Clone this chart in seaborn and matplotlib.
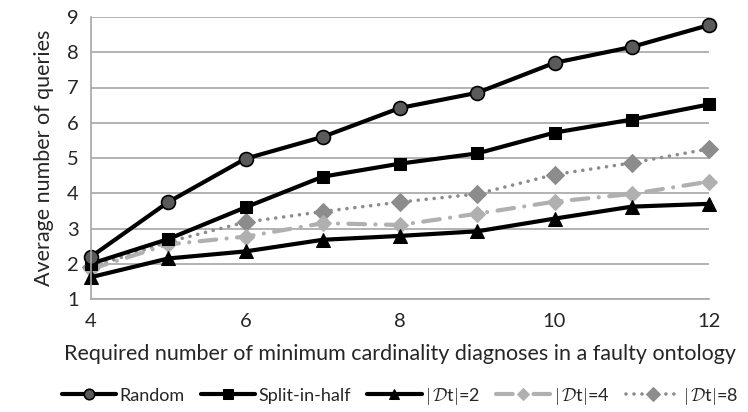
import pandas as pd
import seaborn as sns
import matplotlib.pyplot as plt

x_vals = [4, 5, 6, 7, 8, 9, 10, 11, 12]
random_q = [2.2, 3.75, 4.98, 5.6, 6.42, 6.85, 7.7, 8.15, 8.77]
split_q = [2.0, 2.7, 3.6, 4.47, 4.84, 5.13, 5.72, 6.09, 6.52]
dt2_q = [1.62, 2.15, 2.35, 2.68, 2.79, 2.92, 3.28, 3.62, 3.7]
dt4_q = [1.85, 2.55, 2.77, 3.15, 3.1, 3.42, 3.76, 3.98, 4.33]
dt8_q = [1.9, 2.62, 3.18, 3.48, 3.75, 3.98, 4.53, 4.86, 5.26]
labels = ['Random', 'Split-in-half', r'$|\,\mathcal{D}$t$|$=2',
          r'$|\,\mathcal{D}$t$|$=4', r'$|\,\mathcal{D}$t$|$=8']

sns.set_style('white')
plt.rcParams['font.family'] = ['Lato', 'DejaVu Sans']
plt.rcParams['mathtext.fontset'] = 'cm'

df = pd.DataFrame({'x': x_vals, 'Random': random_q, 'Split': split_q,
                   'dt2': dt2_q, 'dt4': dt4_q, 'dt8': dt8_q})

fig, ax = plt.subplots(figsize=(7.48, 4.12), dpi=100)
fig.subplots_adjust(left=91/748, right=709/748, top=1-17/412, bottom=1-299/412)

# draw dotted/dashed series first so black lines sit on top
sns.lineplot(data=df, x='x', y='dt8', ax=ax, color='#8c8c8c', lw=2.6,
             linestyle=(0, (0.01, 2.2)), dash_capstyle='round',
             marker='D', ms=9, mfc='#8c8c8c', mec='#8c8c8c', label=labels[4], clip_on=False)
sns.lineplot(data=df, x='x', y='dt4', ax=ax, color='#b0b0b0', lw=3,
             linestyle=(0, (4, 2.5, 0.01, 2.5)), dash_capstyle='round',
             marker='D', ms=8, mfc='#b0b0b0', mec='#b0b0b0', label=labels[3], clip_on=False)
sns.lineplot(data=df, x='x', y='dt2', ax=ax, color='black', lw=3,
             marker='^', ms=10, mfc='black', mec='black', label=labels[2], clip_on=False)
sns.lineplot(data=df, x='x', y='Split', ax=ax, color='black', lw=3,
             marker='s', ms=9, mfc='black', mec='black', label=labels[1], clip_on=False)
sns.lineplot(data=df, x='x', y='Random', ax=ax, color='black', lw=3,
             marker='o', ms=10, mfc='#5a5a5a', mec='black', mew=1.2, label=labels[0], clip_on=False)

ax.set_xlim(4, 12)
ax.set_ylim(1, 9)
ax.set_xticks([4, 6, 8, 10, 12])
ax.set_yticks(range(1, 10))
ax.yaxis.grid(True, color='#a6a6a6', lw=1.2)
for s in ['top', 'right']:
    ax.spines[s].set_visible(False)
ax.spines['left'].set_color('#a6a6a6')
ax.spines['bottom'].set_color('#a6a6a6')
ax.spines['left'].set_linewidth(1.2)
ax.spines['bottom'].set_linewidth(1.2)
ax.tick_params(axis='x', direction='out', length=5, color='#a6a6a6', labelsize=14.5, pad=5)
ax.tick_params(axis='y', length=0, labelsize=14.5, pad=9)
ax.set_xlabel('Required number of minimum cardinality diagnoses in a faulty ontology', fontsize=15.5, labelpad=10)
ax.set_ylabel('Average number of queries', fontsize=15.5, labelpad=9)

handles, labs = ax.get_legend_handles_labels()
order = [4, 3, 2, 1, 0]
ax.legend([handles[i] for i in order], [labs[i] for i in order], loc='upper center',
          bbox_to_anchor=(0.5, -0.25), ncol=5, frameon=False, fontsize=13,
          handlelength=3.0, handletextpad=0.2, columnspacing=0.9, markerscale=0.75)

plt.savefig('out.png', dpi=100)
